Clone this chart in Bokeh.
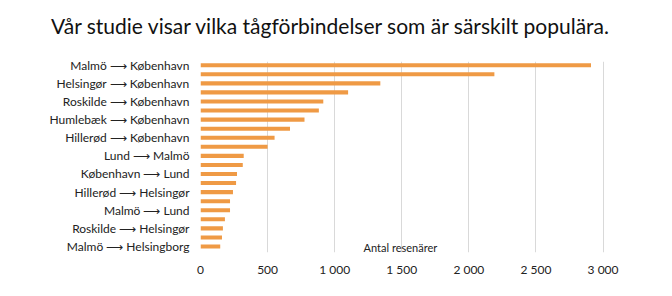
from bokeh.plotting import figure
from bokeh.models import Range1d, FixedTicker, Label, Div
from bokeh.layouts import column
from bokeh.embed import file_html
from bokeh.resources import INLINE

title_text = "Vår studie visar vilka tågförbindelser som är särskilt populära."
axis_title = "Antal resenärer"

# 21 routes, only every other one is labelled in the reference
values = [2910, 2190, 1340, 1100, 915, 882, 775, 667, 552, 500,
          322, 315, 272, 265, 242, 220, 220, 182, 167, 160, 147]
tick_labels = [
    "Malmö ⟶ København",
    "Helsingør ⟶ København",
    "Roskilde ⟶ København",
    "Humlebæk ⟶ København",
    "Hillerød ⟶ København",
    "Lund ⟶ Malmö",
    "København ⟶ Lund",
    "Hillerød ⟶ Helsingør",
    "Malmö ⟶ Lund",
    "Roskilde ⟶ Helsingør",
    "Malmö ⟶ Helsingborg",
]
x_ticks = [0, 500, 1000, 1500, 2000, 2500, 3000]
x_tick_labels = ["0", "500", "1 000", "1 500", "2 000", "2 500", "3 000"]

FONT = "Lato"

positions = list(range(len(values)))
label_positions = positions[::2]

TITLE_H = 40
p = figure(width=672, height=296 - TITLE_H, output_backend="svg", toolbar_location=None,
           x_range=Range1d(0, 3100), y_range=Range1d(20.66, -0.41),
           min_border_left=200, min_border_right=56, min_border_top=61 - TITLE_H,
           min_border_bottom=44)
p.outline_line_color = None
p.background_fill_color = "white"
p.border_fill_color = "white"

p.hbar(y=positions, right=values, left=0, height=0.45,
       color="#EF9A45", line_color=None)

p.xaxis.ticker = FixedTicker(ticks=x_ticks)
p.xaxis.major_label_overrides = {t: l for t, l in zip(x_ticks, x_tick_labels)}
p.yaxis.ticker = FixedTicker(ticks=label_positions)
p.yaxis.major_label_overrides = {pos: l for pos, l in zip(label_positions, tick_labels)}

for ax in (p.xaxis[0], p.yaxis[0]):
    ax.axis_line_color = None
    ax.major_tick_line_color = None
    ax.minor_tick_line_color = None
    ax.major_label_text_font = FONT
    ax.major_label_text_font_size = "12px"
    ax.major_label_text_color = "#222222"
p.xaxis.major_label_standoff = 3
p.yaxis.major_label_standoff = 5

p.xgrid.grid_line_color = "#d9d9d9"
p.xgrid.ticker = FixedTicker(ticks=x_ticks)
p.ygrid.grid_line_color = None

# Label screen coordinates are measured from the frame's bottom-left corner
p.add_layout(Label(x=1490, y=5, y_units="screen", text=axis_title,
                   text_align="center", text_baseline="middle",
                   text_font=FONT, text_font_size="11px", text_color="#222222"))

title = Div(text=title_text, width=660, height=TITLE_H, margin=(0, 0, 0, 0),
            styles={"font-family": "Lato", "font-size": "21px", "color": "#111111",
                    "text-align": "center", "padding-top": "13px",
                    "line-height": "25px", "white-space": "nowrap",
                    "box-sizing": "border-box"})

layout = column(title, p, spacing=0)
open("out.html", "w").write(file_html(layout, INLINE))
